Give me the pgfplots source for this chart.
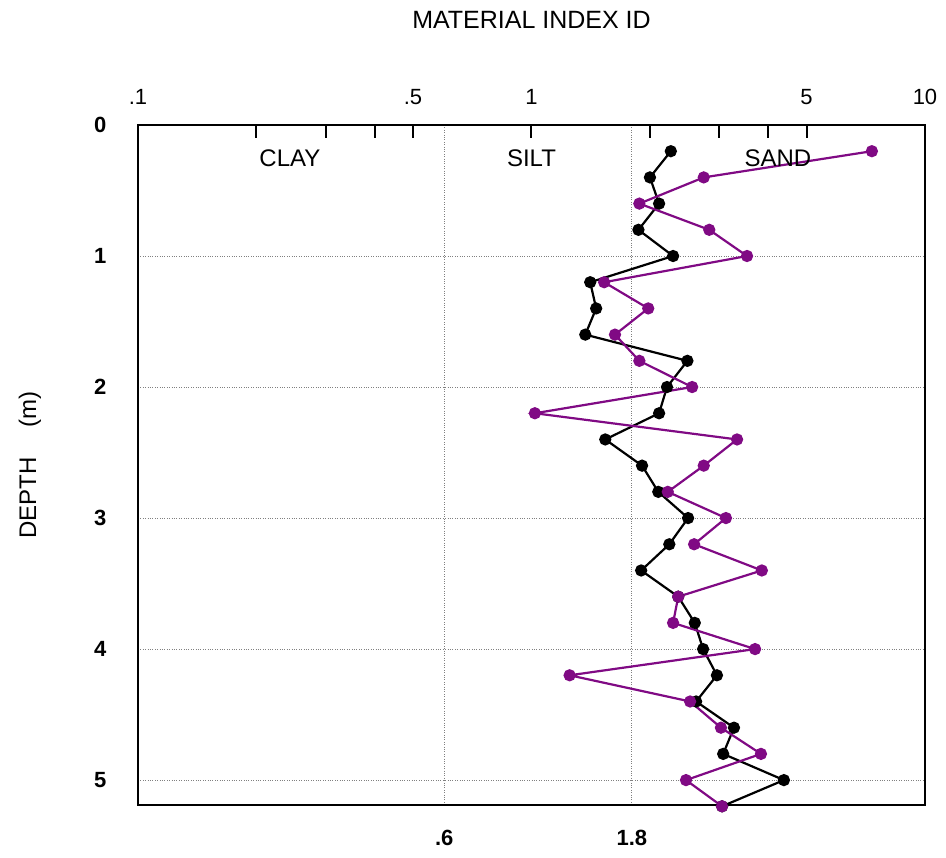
\documentclass[border=0pt]{standalone}
\usepackage{pgfplots}
\usepackage{pgfplotstable}
\pgfplotsset{compat=1.18}
\usepackage{fontspec}
\setmainfont{Liberation Sans}
\definecolor{mypurple}{RGB}{128,10,132}

\pgfplotstableread{
d ic
0.2 2.26
0.4 2.00
0.6 2.11
0.8 1.87
1.0 2.29
1.2 1.41
1.4 1.46
1.6 1.37
1.8 2.49
2.0 2.21
2.2 2.11
2.4 1.54
2.6 1.91
2.8 2.10
3.0 2.50
3.2 2.24
3.4 1.90
3.6 2.36
3.8 2.60
4.0 2.73
4.2 2.96
4.4 2.62
4.6 3.27
4.8 3.07
5.0 4.38
5.2 3.05
}\blackdata

\pgfplotstableread{
d ic
0.2 7.33
0.4 2.74
0.6 1.88
0.8 2.83
1.0 3.53
1.2 1.53
1.4 1.98
1.6 1.63
1.8 1.88
2.0 2.56
2.2 1.02
2.4 3.33
2.6 2.74
2.8 2.22
3.0 3.12
3.2 2.59
3.4 3.85
3.6 2.36
3.8 2.29
4.0 3.70
4.2 1.25
4.4 2.53
4.6 3.03
4.8 3.83
5.0 2.47
5.2 3.05
}\purpledata

\begin{document}
\begin{tikzpicture}
\begin{axis}[
  name=main,
  scale only axis, width=787pt, height=680pt,
  xmode=log, xmin=0.1, xmax=10,
  ymin=0, ymax=5.19, y dir=reverse,
  axis line style={line width=2.6pt},
  xtick={0.6,1.8}, xticklabels={.6,1.8},
  x tick label style={font=\fontsize{22}{24}\selectfont\bfseries, yshift=-22pt},
  ytick={0,1,2,3,4,5},
  yticklabels={0,1,2,3,4,5},
  y tick label style={font=\fontsize{22}{24}\selectfont\bfseries, xshift=-28pt},
  major tick length=0pt,
  xmajorgrids, ymajorgrids,
  grid style={dotted, gray, line width=1pt},
  clip=false,
]
\addplot[black, line width=2.2pt, mark=*, mark size=5pt, mark options={fill=black}] table[x=ic, y=d] {\blackdata};
\addplot[mypurple, line width=2.2pt, mark=*, mark size=5pt, mark options={fill=mypurple}] table[x=ic, y=d] {\purpledata};
\node[font=\fontsize{24}{28}\selectfont] at (axis cs:0.2433,0.25) {CLAY};
\node[font=\fontsize{24}{28}\selectfont] at (axis cs:1,0.25) {SILT};
\node[font=\fontsize{24}{28}\selectfont] at (axis cs:4.23,0.25) {SAND};
\end{axis}
\begin{axis}[
  scale only axis, width=787pt, height=680pt,
  xmode=log, xmin=0.1, xmax=10, ymin=0, ymax=1,
  axis x line*=top, axis y line=none,
  axis line style={line width=2.6pt},
  xtick={0.1,0.2,0.3,0.4,0.5,1,2,3,4,5,10},
  xticklabels={.1,,,,.5,1,,,,5,10},
  minor xtick={},
  tick align=inside, major tick length=13pt,
  tick style={line width=2pt, black},
  x tick label style={font=\fontsize{22}{24}\selectfont, yshift=17pt},
]
\addplot[draw=none] coordinates {(1,0.5)};
\end{axis}
\node[font=\fontsize{25}{30}\selectfont] at ([yshift=105pt]main.north) {MATERIAL INDEX ID};
\node[font=\fontsize{24}{28}\selectfont, rotate=90] at ([xshift=-108pt]main.west) {DEPTH\hspace{30pt}(m)};
\path ([xshift=-138pt,yshift=-53pt]main.south west) rectangle ([xshift=21pt,yshift=125pt]main.north east);
\end{tikzpicture}
\end{document}
